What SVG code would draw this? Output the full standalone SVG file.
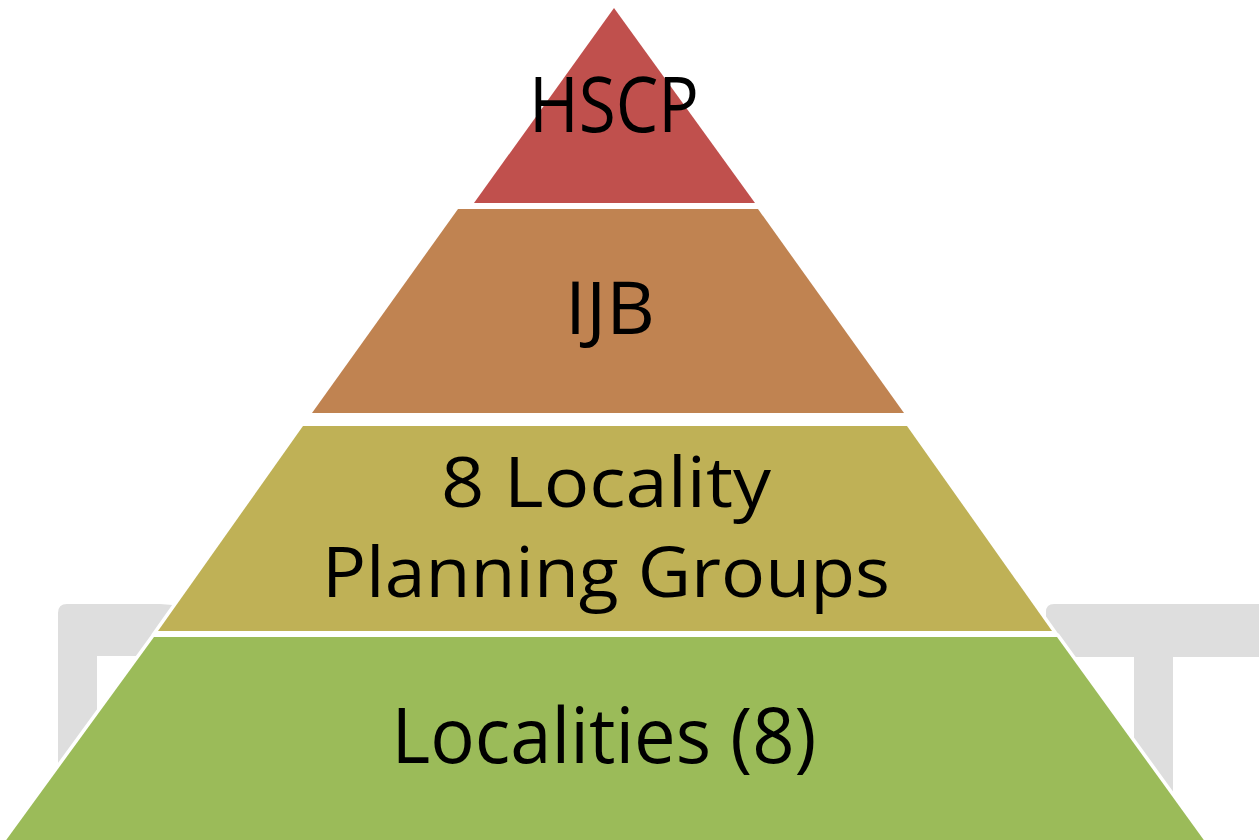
<svg xmlns="http://www.w3.org/2000/svg" width="1259" height="840" viewBox="0 0 1259 840">
<style>
.band{stroke:#ffffff;stroke-width:7;paint-order:stroke;stroke-linejoin:miter}
.wm{fill:#dedede}
.lbl{font-family:"Open Sans","Noto Sans","Liberation Sans",sans-serif;fill:#000000;text-anchor:middle}
</style>
<rect width="1259" height="840" fill="#ffffff"/>
<g id="watermark">
<path class="wm" d="M58,613 Q58,604 67,604 L160,604 Q185,605 210,612 L210,656 L97,656 L97,840 L58,840 Z"/>
<path class="wm" d="M1054,604 L1259,604 L1259,657 L1173,657 L1173,840 L1134,840 L1134,657 L1056,657 Q1046,657 1046,647 L1046,612 Q1046,604 1054,604 Z"/>
</g>
<g id="connectors"></g>
<g id="node-localities">
<polygon class="band" fill="#9bbb59" points="154,637 1057,637 1206,843 4,843"/>
<text class="lbl" x="604" y="763" font-size="77" textLength="425" lengthAdjust="spacingAndGlyphs">Localities (8)</text>
</g>
<g id="node-lpg">
<polygon class="band" fill="#bfb156" points="303,426 907,426 1052,631 158,631"/>
<text class="lbl" x="606" y="507" font-size="70" textLength="330" lengthAdjust="spacingAndGlyphs">8 Locality</text>
<text class="lbl" x="606" y="597" font-size="70" textLength="568" lengthAdjust="spacingAndGlyphs">Planning Groups</text>
</g>
<g id="node-ijb">
<polygon class="band" fill="#c08351" points="458,209 758,209 904,413 312,413"/>
<text class="lbl" x="610" y="334" font-size="73" textLength="90" lengthAdjust="spacingAndGlyphs">IJB</text>
</g>
<g id="node-hscp">
<polygon class="band" fill="#c0504d" points="614,8 755,203 474,203"/>
<text class="lbl" x="614" y="132" font-size="77" textLength="170" lengthAdjust="spacingAndGlyphs">HSCP</text>
</g>
</svg>
